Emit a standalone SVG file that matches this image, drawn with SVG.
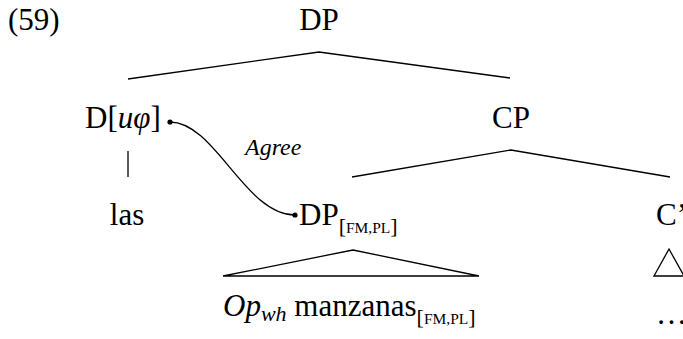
<svg xmlns="http://www.w3.org/2000/svg" width="683" height="339" viewBox="0 0 683 339">
<style>
text{font-family:"Liberation Serif","Times New Roman",serif;fill:#000;font-size:31px}
.it{font-style:italic}
.sub{font-size:22px}
.sc{font-size:15.5px}
.ag{font-size:24px;font-style:italic}
.edge{fill:none;stroke:#000;stroke-width:1.3}
</style>
<rect width="683" height="339" fill="#fff"/>
<text id="ex" x="8" y="30">(59)</text>
<g id="connectors">
<polyline class="edge" points="128,79 319,52 510,78"/>
<line class="edge" x1="128" y1="151" x2="128" y2="177"/>
<polyline class="edge" points="352,177 511,150 670,177"/>
<polygon class="edge" points="353,250 223,276 479,276"/>
<polygon class="edge" points="669,249 654,276 684,276"/>
<path class="edge" d="M170,122 C215,122 245,215 295,215"/>
<circle cx="170" cy="122" r="2.6" fill="#000"/>
<circle cx="295" cy="215" r="2.6" fill="#000"/>
<text class="ag" x="245" y="155">Agree</text>
</g>
<g id="n-dp-top"><text x="319" y="30" text-anchor="middle">DP</text></g>
<g id="n-d"><text x="85" y="128">D[<tspan class="it">u</tspan><tspan class="it">φ</tspan>]</text></g>
<g id="n-cp"><text x="511" y="128" text-anchor="middle">CP</text></g>
<g id="n-las"><text x="127" y="225" text-anchor="middle">las</text></g>
<g id="n-dp"><text x="299" y="225">DP<tspan class="sub" dy="8">[</tspan><tspan class="sc">FM,PL</tspan><tspan class="sub">]</tspan></text></g>
<g id="n-cbar"><text x="656" y="225">C’</text></g>
<g id="n-op"><text x="223" y="316"><tspan class="it">Op</tspan><tspan class="it sub" dy="5">wh</tspan><tspan dy="-5"> manzanas</tspan><tspan class="sub" dy="8">[</tspan><tspan class="sc">FM,PL</tspan><tspan class="sub">]</tspan></text></g>
<g id="n-dots"><text x="656" y="324">…</text></g>
</svg>
